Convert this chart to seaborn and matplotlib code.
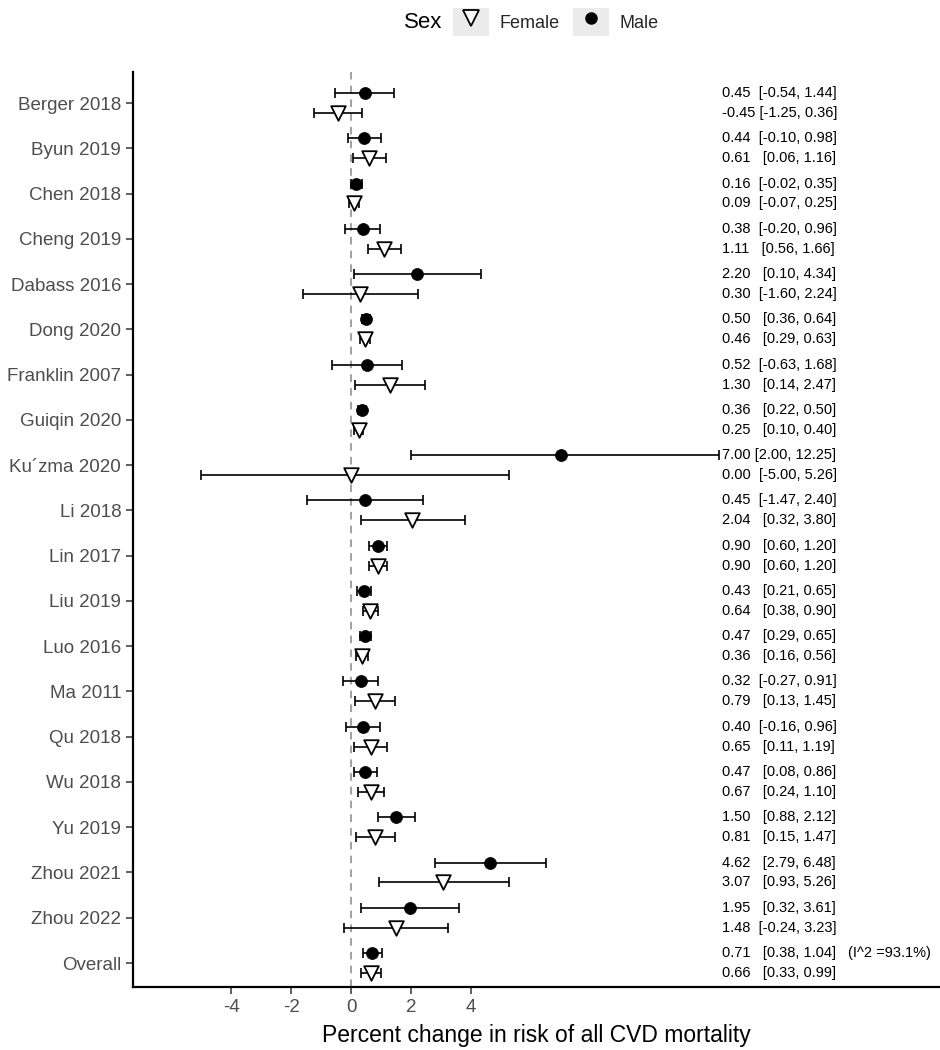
import numpy as np
import pandas as pd
import matplotlib
matplotlib.use("Agg")
import matplotlib.pyplot as plt
import seaborn as sns
from matplotlib.patches import Patch
from matplotlib.lines import Line2D
from matplotlib.legend_handler import HandlerTuple

studies = ["Berger 2018", "Byun 2019", "Chen 2018", "Cheng 2019", "Dabass 2016",
           "Dong 2020", "Franklin 2007", "Guiqin 2020", "Ku\u00b4zma 2020", "Li 2018",
           "Lin 2017", "Liu 2019", "Luo 2016", "Ma 2011", "Qu 2018", "Wu 2018",
           "Yu 2019", "Zhou 2021", "Zhou 2022", "Overall"]

male_est = [0.45, 0.44, 0.16, 0.38, 2.20, 0.50, 0.52, 0.36, 7.00, 0.45,
            0.90, 0.43, 0.47, 0.32, 0.40, 0.47, 1.50, 4.62, 1.95, 0.71]
male_lo = [-0.54, -0.10, -0.02, -0.20, 0.10, 0.36, -0.63, 0.22, 2.00, -1.47,
           0.60, 0.21, 0.29, -0.27, -0.16, 0.08, 0.88, 2.79, 0.32, 0.38]
male_hi = [1.44, 0.98, 0.35, 0.96, 4.34, 0.64, 1.68, 0.50, 12.25, 2.40,
           1.20, 0.65, 0.65, 0.91, 0.96, 0.86, 2.12, 6.48, 3.61, 1.04]

female_est = [-0.45, 0.61, 0.09, 1.11, 0.30, 0.46, 1.30, 0.25, 0.00, 2.04,
              0.90, 0.64, 0.36, 0.79, 0.65, 0.67, 0.81, 3.07, 1.48, 0.66]
female_lo = [-1.25, 0.06, -0.07, 0.56, -1.60, 0.29, 0.14, 0.10, -5.00, 0.32,
             0.60, 0.38, 0.16, 0.13, 0.11, 0.24, 0.15, 0.93, -0.24, 0.33]
female_hi = [0.36, 1.16, 0.25, 1.66, 2.24, 0.63, 2.47, 0.40, 5.26, 3.80,
             1.20, 0.90, 0.56, 1.45, 1.19, 1.10, 1.47, 5.26, 3.23, 0.99]

heterogeneity = "(I^2 =93.1%)"
x_ticks = [-4, -2, 0, 2, 4]
x_label = "Percent change in risk of all CVD mortality"

sns.set_theme(style="ticks")
plt.rcParams["font.family"] = ["Liberation Sans", "DejaVu Sans"]

n = len(studies)
rows = np.arange(n)
dodge = 0.22
df = pd.concat([
    pd.DataFrame({"Study": studies, "Sex": "Male", "est": male_est, "lo": male_lo,
                  "hi": male_hi, "y": rows - dodge}),
    pd.DataFrame({"Study": studies, "Sex": "Female", "est": female_est, "lo": female_lo,
                  "hi": female_hi, "y": rows + dodge}),
], ignore_index=True)

fig = plt.figure(figsize=(9.4, 10.5), dpi=100)
ax = fig.add_axes([133 / 940, 1 - 987 / 1050, 1 - 133 / 940, (987 - 72) / 1050])

ax.axvline(0, color="#888888", lw=1.1, ls=(0, (5, 4)), zorder=1)

for sex in ["Male", "Female"]:
    d = df[df["Sex"] == sex]
    ax.errorbar(d["est"], d["y"], xerr=[d["est"] - d["lo"], d["hi"] - d["est"]],
                fmt="none", ecolor="black", elinewidth=1.2, capsize=3.5, capthick=1.2,
                zorder=2)

sns.scatterplot(data=df[df["Sex"] == "Male"], x="est", y="y", marker="o", s=75,
                color="black", edgecolor="black", linewidth=0.5, ax=ax, legend=False,
                zorder=3)
sns.scatterplot(data=df[df["Sex"] == "Female"], x="est", y="y", marker="v", s=110,
                facecolor="white", edgecolor="black", linewidth=1.3, ax=ax,
                legend=False, zorder=3)


def label(e, l, h):
    hs = f"{h:.2f}"
    if e < 0:
        return f"{e:.2f} [{l:.2f}, {hs}]", "right"
    if len(hs) > 4:
        sep = " "
    elif l < 0:
        sep = "  "
    else:
        sep = "   "
    return f"{e:.2f}{sep}[{l:.2f}, {hs}]", "left"


x_left, x_right = 12.37, 16.2
for est, lo, hi, off in [(male_est, male_lo, male_hi, -dodge),
                         (female_est, female_lo, female_hi, dodge)]:
    for i in range(n):
        s, ha = label(est[i], lo[i], hi[i])
        ax.text(x_left if ha == "left" else x_right, rows[i] + off, s,
                ha=ha, va="center", fontsize=10.5, color="black")
ax.text(16.57, rows[-1] - dodge, heterogeneity, ha="left", va="center",
        fontsize=10.5, color="black")

ax.set_xlim(-7.27, 19.63)
ax.set_ylim(19.53, -0.685)
ax.set_yticks(rows)
ax.set_yticklabels(studies)
ax.set_xticks(x_ticks)
ax.set_xticklabels([str(t) for t in x_ticks])
ax.tick_params(axis="both", labelsize=13.5, labelcolor="#4D4D4D", color="#333333",
               length=5, width=1.1, direction="out")
ax.set_xlabel(x_label, fontsize=16.5, color="black", labelpad=6)
ax.set_ylabel("")
for s in ["top", "right"]:
    ax.spines[s].set_visible(False)
for s in ["left", "bottom"]:
    ax.spines[s].set_linewidth(1.6)
    ax.spines[s].set_color("black")

# legend
key_bg = "#EBEBEB"
h_f = (Patch(facecolor=key_bg, edgecolor="none"),
       Line2D([], [], marker="v", ls="none", markersize=11, markerfacecolor="white",
              markeredgecolor="black", markeredgewidth=1.3))
h_m = (Patch(facecolor=key_bg, edgecolor="none"),
       Line2D([], [], marker="o", ls="none", markersize=8, markerfacecolor="black",
              markeredgecolor="black"))
fig.text(404 / 940, 1 - 22 / 1050, "Sex", fontsize=16, va="center", ha="left",
         color="black")
fig.legend([h_f, h_m], ["Female", "Male"], loc="center left",
           bbox_to_anchor=(453 / 940, 1 - 22 / 1050), ncol=2, frameon=False,
           handler_map={tuple: HandlerTuple(ndivide=1, pad=0)},
           handlelength=2.0, handleheight=2.0, handletextpad=0.6,
           columnspacing=0.7, borderpad=0, borderaxespad=0, fontsize=13)

fig.savefig("out.png", dpi=100)
